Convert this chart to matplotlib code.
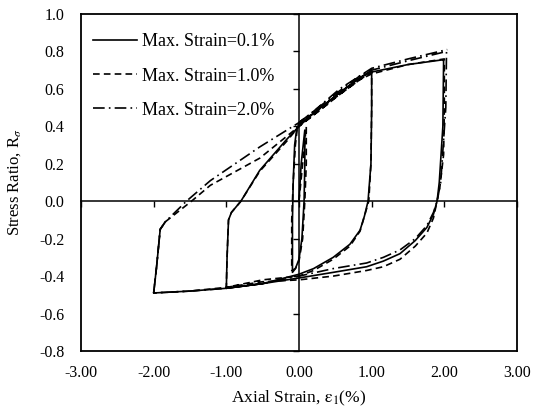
import matplotlib.pyplot as plt
import numpy as np

plt.rcParams['font.family'] = ['Liberation Serif', 'DejaVu Serif']
plt.rcParams['mathtext.fontset'] = 'stix'
plt.rcParams['axes.unicode_minus'] = False

# small loop, 1% loop and 2% loop
x_01 = [0.0, 0.03, 0.08, 0.08, 0.07, 0.04, 0.0, -0.05, -0.09, -0.09, -0.08, -0.06, -0.03, 0.0,
        0.2, 0.56, 0.84, 1.0, 1.0, 0.99, 0.95, 0.9, 0.84, 0.7, 0.47, 0.2, 0.0,
        -0.5, -1.0, -0.99, -0.97, -0.93, -0.8, -0.54, -0.17, 0.0,
        0.2, 0.56, 0.84, 1.0, 1.5, 1.97, 1.99, 1.98, 1.93, 1.9, 1.85, 1.76, 1.6, 1.39, 1.16, 0.93, 0.47, 0.0,
        -0.5, -1.0, -1.5, -2.0, -1.96, -1.91, -1.84]
y_01 = [0.0, 0.2, 0.38, 0.2, 0.0, -0.2, -0.31, -0.36, -0.38, -0.1, 0.1, 0.3, 0.39, 0.41,
        0.47, 0.58, 0.66, 0.70, 0.5, 0.2, 0.0, -0.08, -0.155, -0.23, -0.30, -0.36, -0.39,
        -0.44, -0.465, -0.3, -0.1, -0.06, 0.0, 0.165, 0.33, 0.40,
        0.47, 0.58, 0.66, 0.69, 0.73, 0.755, 0.75, 0.4, 0.1, 0.0, -0.07, -0.14, -0.21, -0.28, -0.32, -0.35, -0.38, -0.41,
        -0.44, -0.465, -0.48, -0.49, -0.35, -0.15, -0.11]

x_10 = [0.0, 0.05, 0.10, 0.10, 0.08, 0.05, 0.0, -0.05, -0.10, -0.10, -0.08, -0.05, -0.02, 0.0,
        0.2, 0.56, 0.84, 1.0, 1.0, 0.99, 0.96, 0.9, 0.84, 0.7, 0.47, 0.2, 0.0,
        -0.5, -1.0, -0.99, -0.97, -0.93, -0.8, -0.54, -0.17, 0.0,
        0.2, 0.56, 0.84, 1.0, 1.5, 2.0, 2.0, 1.99, 1.94, 1.9, 1.85, 1.76, 1.6, 1.39, 1.16, 0.93, 0.47, 0.0,
        -0.5, -1.0, -1.5, -2.0, -1.96, -1.91, -1.84, -1.48, -1.22, -0.54, 0.0, 0.4]
y_10 = [0.0, 0.2, 0.40, 0.2, 0.0, -0.2, -0.32, -0.36, -0.37, -0.1, 0.1, 0.3, 0.40, 0.42,
        0.47, 0.57, 0.65, 0.69, 0.5, 0.2, 0.0, -0.08, -0.16, -0.24, -0.31, -0.37, -0.40,
        -0.42, -0.46, -0.3, -0.1, -0.06, 0.0, 0.16, 0.32, 0.40,
        0.46, 0.57, 0.65, 0.68, 0.73, 0.76, 0.5, 0.25, 0.08, 0.0, -0.09, -0.17, -0.24, -0.31, -0.35, -0.37, -0.40, -0.42,
        -0.43, -0.46, -0.48, -0.49, -0.35, -0.15, -0.11, 0.0, 0.085, 0.23, 0.40, 0.52]

x_20 = [0.0, 0.2, 0.56, 0.84, 1.0, 1.5, 2.03, 2.02, 1.95, 1.9, 1.85, 1.76, 1.6, 1.39, 1.16, 0.93, 0.47, 0.0,
        -0.5, -1.0, -1.5, -2.0, -1.96, -1.91, -1.84, -1.55, -1.22, -0.54, 0.0,
        0.2, 0.56, 0.84, 1.0, 1.5, 2.04]
y_20 = [0.42, 0.48, 0.59, 0.67, 0.70, 0.75, 0.80, 0.5, 0.1, 0.0, -0.06, -0.13, -0.20, -0.26, -0.30, -0.33, -0.36, -0.40,
        -0.44, -0.465, -0.48, -0.49, -0.35, -0.15, -0.11, 0.0, 0.11, 0.29, 0.42,
        0.48, 0.60, 0.67, 0.71, 0.76, 0.81]

labels = ['Max. Strain=0.1%', 'Max. Strain=1.0%', 'Max. Strain=2.0%']
xticks = [-3, -2, -1, 0, 1, 2, 3]
yticks = [-0.8, -0.6, -0.4, -0.2, 0.0, 0.2, 0.4, 0.6, 0.8, 1.0]

fig = plt.figure(figsize=(5.35, 4.13), dpi=100)
pos = [81 / 535, 1 - 351 / 413, (517 - 81) / 535, (351 - 14) / 413]
ax = fig.add_axes(pos)

ax.plot(x_01, y_01, color='black', lw=1.2, ls='-', label=labels[0])
ax.plot(x_10, y_10, color='black', lw=1.2, ls=(0, (4, 2.5)), label=labels[1])
ax.plot(x_20, y_20, color='black', lw=1.2, ls=(0, (7, 2.5, 1, 2.5)), label=labels[2])

ax.set_xlim(-3, 3)
ax.set_ylim(-0.8, 1.0)
ax.set_xticks(xticks)
ax.set_yticks(yticks)
ax.set_xticklabels(['%.2f' % v for v in xticks])
ax.set_yticklabels(['%.1f' % v for v in yticks])
ax.tick_params(axis='x', length=0, labelsize=11.5, pad=10)
ax.tick_params(axis='y', length=0, labelsize=11.5, pad=12)
for s in ax.spines.values():
    s.set_linewidth(1.3)

ax.set_xlabel(r'Axial Strain, $\mathrm{\varepsilon}_1$(%)', fontsize=12.5)
ax.set_ylabel(r'Stress Ratio, R$_\sigma$', fontsize=12)
ax.xaxis.set_label_coords(0.5, -0.112)
ax.yaxis.set_label_coords(-0.133, 0.5)

leg = ax.legend(loc='upper left', bbox_to_anchor=(-0.005, 0.985), frameon=False,
                fontsize=13, handlelength=2.4, labelspacing=0.95,
                handletextpad=0.3, borderpad=0.3)

# axis lines through zero with their tick marks
ax_in = fig.add_axes(pos, sharex=ax, sharey=ax)
ax_in.patch.set_visible(False)
ax_in.spines['left'].set_position(('data', 0))
ax_in.spines['bottom'].set_position(('data', 0))
ax_in.spines['top'].set_visible(False)
ax_in.spines['right'].set_visible(False)
ax_in.spines['left'].set_linewidth(1.1)
ax_in.spines['bottom'].set_linewidth(1.1)
ax_in.tick_params(direction='out', length=4, width=1.0, labelbottom=False, labelleft=False)

fig.savefig('out.png', dpi=100)
